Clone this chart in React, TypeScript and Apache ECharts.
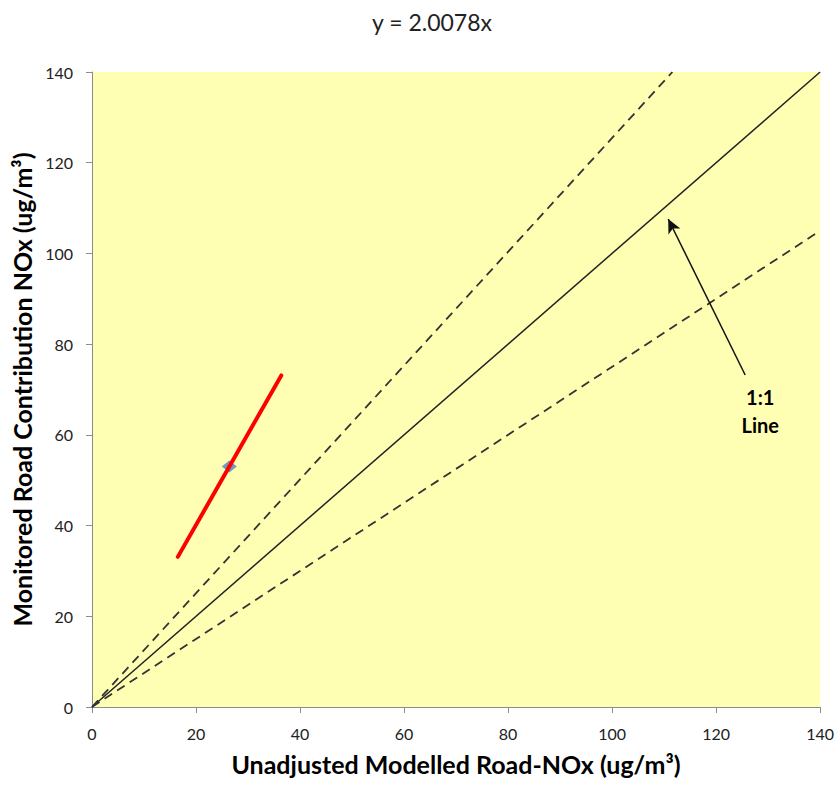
import React, { useEffect, useRef } from "react";
import * as echarts from "echarts";

const titleText = "y = 2.0078x";
const xAxisName = "Unadjusted Modelled Road-NOx (ug/m³)";
const yAxisName = "Monitored Road Contribution NOx (ug/m³)";

// regression line y = 2.0078x over the modelled range
const trendLine: [number, number][] = [
  [16.5, 33.1],
  [36.4, 73.1],
];
// the single monitored point
const monitoredPoints: [number, number][] = [[26.4, 53.0]];
// reference lines
const oneToOneLine: [number, number][] = [
  [0, 0],
  [140, 140],
];
const upperBandLine: [number, number][] = [
  [0, 0],
  [111.6, 140],
];
const lowerBandLine: [number, number][] = [
  [0, 0],
  [140, 105],
];
// annotation arrow and label
const arrowFrom: [number, number] = [125.6, 73.2];
const arrowTo: [number, number] = [110.8, 107.6];
const labelPos: [number, number] = [128.5, 65.3];
const labelText = "1:1\nLine";

const axisMin = 0;
const axisMax = 140;
const axisStep = 20;

const FONT = "Lato, 'Open Sans', sans-serif";

export default function App() {
  const ref = useRef<HTMLDivElement>(null);
  useEffect(() => {
    document.body.style.margin = "0";
    if (!ref.current) return;
    const chart = echarts.init(ref.current, undefined, { renderer: "svg" });
    const axisCommon = {
      type: "value" as const,
      min: axisMin,
      max: axisMax,
      interval: axisStep,
      nameLocation: "middle" as const,
      nameTextStyle: { fontFamily: FONT, fontWeight: "bold", fontSize: 25, color: "#000" },
      axisLine: { show: true, lineStyle: { color: "#8c8c8c", width: 1 } },
      axisTick: { show: true, length: 6, inside: false, lineStyle: { color: "#8c8c8c" } },
      axisLabel: { fontFamily: FONT, fontSize: 16, color: "#222", margin: 18 },
      splitLine: { show: false },
    };
    chart.setOption({
      animation: false,
      backgroundColor: "#ffffff",
      graphic: [
        {
          type: "text",
          x: 432,
          y: 22,
          style: {
            text: titleText,
            fontFamily: FONT,
            fontSize: 23,
            fill: "#222",
            textAlign: "center",
            textVerticalAlign: "middle",
          },
        },
      ],
      grid: {
        left: 92,
        right: 15,
        top: 72,
        bottom: 80,
        show: true,
        backgroundColor: "#ffffb4",
        borderWidth: 0,
      },
      xAxis: { ...axisCommon, name: xAxisName, nameGap: 44 },
      yAxis: { ...axisCommon, name: yAxisName, nameGap: 57, axisLabel: { ...axisCommon.axisLabel, margin: 19 } },
      series: [
        {
          type: "line",
          data: oneToOneLine,
          symbol: "none",
          lineStyle: { color: "#222", width: 1.5, type: "solid" },
          silent: true,
          z: 2,
        },
        {
          type: "line",
          data: upperBandLine,
          symbol: "none",
          lineStyle: { color: "#333", width: 1.8, type: [9, 6] },
          silent: true,
          z: 2,
        },
        {
          type: "line",
          data: lowerBandLine,
          symbol: "none",
          lineStyle: { color: "#333", width: 1.8, type: [9, 6] },
          silent: true,
          z: 2,
        },
        {
          type: "scatter",
          data: monitoredPoints,
          symbol: "diamond",
          symbolSize: [15, 12],
          itemStyle: { color: "#4f81bd" },
          z: 3,
        },
        {
          type: "line",
          data: trendLine,
          symbol: "none",
          lineStyle: { color: "#ff0000", width: 4, cap: "round" },
          z: 4,
        },
        {
          type: "scatter",
          data: [labelPos],
          symbolSize: 0,
          itemStyle: { color: "#000", opacity: 1 },
          label: {
            show: true,
            position: "inside",
            formatter: labelText,
            fontFamily: FONT,
            fontWeight: "bold",
            fontSize: 20,
            lineHeight: 28,
            color: "#000",
            opacity: 1,
          },
          markLine: {
            silent: true,
            symbol: ["none", "arrow"],
            symbolSize: [10, 14],
            label: { show: false },
            lineStyle: { color: "#111", width: 1.5, type: "solid", opacity: 1 },
            data: [[{ coord: arrowFrom }, { coord: arrowTo }]],
          },
          z: 5,
        },
      ],
    });
    return () => chart.dispose();
  }, []);
  return <div ref={ref} style={{ width: 837, height: 787, position: "absolute", left: 0, top: 0 }} />;
}
